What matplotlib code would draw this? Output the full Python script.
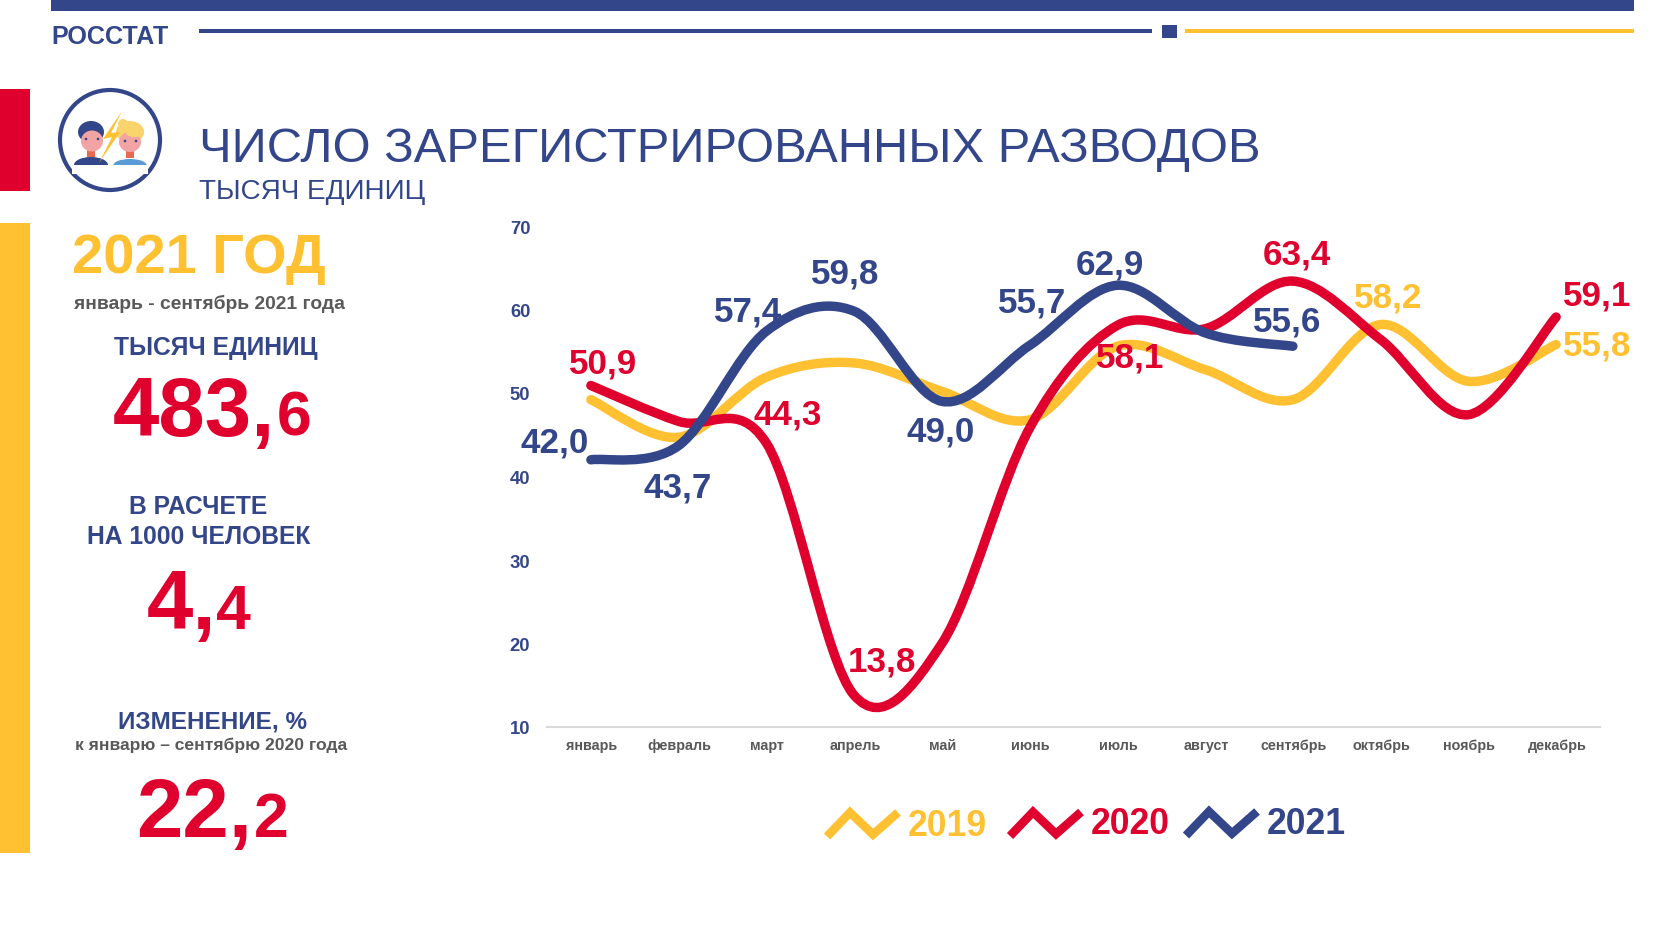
import numpy as np
import matplotlib
matplotlib.use('Agg')
import matplotlib.pyplot as plt
from matplotlib.path import Path
from matplotlib.patches import PathPatch, Rectangle, Circle, Ellipse, Polygon

plt.rcParams['font.family'] = ['Liberation Sans', 'DejaVu Sans']

NAVY = '#34468A'
RED = '#E0002D'
YELLOW = '#FFC132'
GRAY = '#595959'

months = ['январь', 'февраль', 'март', 'апрель', 'май', 'июнь', 'июль',
          'август', 'сентябрь', 'октябрь', 'ноябрь', 'декабрь']

series = {
    '2019': (YELLOW, [49.2, 44.7, 51.9, 53.6, 50.2, 46.8, 55.6, 52.8, 49.2, 58.2, 51.4, 55.8]),
    '2020': (RED, [50.9, 46.6, 44.0, 13.8, 20.0, 45.8, 58.1, 57.7, 63.4, 56.4, 47.4, 59.1]),
    '2021': (NAVY, [42.0, 43.7, 57.4, 59.8, 49.0, 55.7, 62.9, 57.2, 55.6]),
}

# label text, series colour, month index, value, offset in pixels from the point
labels = [
    ('50,9', RED, 0, 50.9, (12, 22)),
    ('42,0', NAVY, 0, 42.0, (-36, 18)),
    ('43,7', NAVY, 1, 43.7, (-1, -41)),
    ('57,4', NAVY, 2, 57.4, (-18, 20)),
    ('44,3', RED, 2, 44.0, (21, 29)),
    ('59,8', NAVY, 3, 59.8, (-9, 38)),
    ('13,8', RED, 3, 13.8, (28, 34)),
    ('49,0', NAVY, 4, 49.0, (-1, -30)),
    ('55,7', NAVY, 5, 55.7, (2, 43)),
    ('62,9', NAVY, 6, 62.9, (-7, 21)),
    ('58,1', RED, 6, 58.1, (13, -32)),
    ('63,4', RED, 8, 63.4, (4, 27)),
    ('55,6', NAVY, 8, 55.6, (-6, 25)),
    ('58,2', YELLOW, 9, 58.2, (8, 28)),
    ('59,1', RED, 11, 59.1, (41, 22)),
    ('55,8', YELLOW, 11, 55.8, (41, 0)),
]


def smooth_path(y):
    # same kind of smoothing as an office chart: bezier through every point
    x = np.arange(len(y), dtype=float)
    y = np.array(y, dtype=float)
    verts = [(x[0], y[0])]
    codes = [Path.MOVETO]
    for i in range(len(y) - 1):
        i0 = max(i - 1, 0)
        i3 = min(i + 2, len(y) - 1)
        verts.append((x[i] + (x[i + 1] - x[i0]) / 6, y[i] + (y[i + 1] - y[i0]) / 6))
        verts.append((x[i + 1] - (x[i3] - x[i]) / 6, y[i + 1] - (y[i3] - y[i]) / 6))
        verts.append((x[i + 1], y[i + 1]))
        codes += [Path.CURVE4, Path.CURVE4, Path.CURVE4]
    return Path(verts, codes)


W, H = 1680, 945
fig = plt.figure(figsize=(16.8, 9.45), dpi=100, facecolor='white')

# page furniture is laid out in pixels on a full size axes
page = fig.add_axes([0, 0, 1, 1], zorder=0)
page.set_xlim(0, W)
page.set_ylim(H, 0)
page.axis('off')

page.add_patch(Rectangle((51, 0), 1583, 12, color=NAVY, lw=0))
page.add_patch(Rectangle((199, 30), 953, 3.5, color=NAVY, lw=0))
page.add_patch(Rectangle((1162, 25.5), 15, 13, color=NAVY, lw=0))
page.add_patch(Rectangle((1185, 30), 449, 3.5, color=YELLOW, lw=0))
page.add_patch(Rectangle((0, 90), 30, 102, color=RED, lw=0))
page.add_patch(Rectangle((0, 224), 30, 630, color=YELLOW, lw=0))

page.text(51, 43.5, 'РОССТАТ', color=NAVY, fontsize=18.1, fontweight='bold', va='baseline')
page.text(199, 162, 'ЧИСЛО ЗАРЕГИСТРИРОВАННЫХ РАЗВОДОВ', color=NAVY, fontsize=35.2, va='baseline')
page.text(199, 199, 'ТЫСЯЧ ЕДИНИЦ', color=NAVY, fontsize=20.1, va='baseline')

# icon
page.add_patch(Circle((110, 141), 50, fc='white', ec=NAVY, lw=3))
page.add_patch(Ellipse((91, 166), 34, 16, color=NAVY, lw=0))
page.add_patch(Ellipse((130, 166), 33, 12, color='#5B9BD5', lw=0))
page.add_patch(Rectangle((72, 165.5), 76, 9, color='white', lw=0))
page.add_patch(Rectangle((87, 150), 8, 8, color='#E8694F', lw=0))
page.add_patch(Rectangle((126, 152), 8, 7, color='#E8694F', lw=0))
page.add_patch(Ellipse((91, 133), 26, 22, color=NAVY, lw=0))
page.add_patch(Ellipse((130, 133), 28, 22, color='#F9D36B', lw=0))
page.add_patch(Circle((123, 125), 5, color='#F9D36B', lw=0))
page.add_patch(Ellipse((92, 142), 22, 21, color='#F2A3A3', lw=0))
page.add_patch(Ellipse((130, 143), 22, 20, color='#F2A3A3', lw=0))
page.add_patch(Ellipse((135, 134), 18, 8, color='#F9D36B', lw=0))
page.add_patch(Polygon([(122, 112), (103, 140), (112, 138), (99, 164), (120, 133), (111, 134)],
                       color=YELLOW, lw=0))
for ex, ey in [(86, 140), (98, 140), (125, 142), (136, 142)]:
    page.add_patch(Circle((ex, ey), 1.3, color=NAVY, lw=0))

# left panel
page.text(72, 273, '2021 ГОД', color=YELLOW, fontsize=40.3, fontweight='bold', va='baseline')
page.text(209.5, 304, 'январь - сентябрь 2021 года', color=GRAY, fontsize=13.85, fontweight='bold',
          ha='center', va='center')
page.text(216, 348, 'ТЫСЯЧ ЕДИНИЦ', color=NAVY, fontsize=17.7, fontweight='bold', ha='center', va='center')
page.text(198.5, 506.5, 'В РАСЧЕТЕ', color=NAVY, fontsize=17.7, fontweight='bold', ha='center', va='center')
page.text(198.5, 536.5, 'НА 1000 ЧЕЛОВЕК', color=NAVY, fontsize=17.7, fontweight='bold', ha='center', va='center')
page.text(212, 722, 'ИЗМЕНЕНИЕ, %', color=NAVY, fontsize=17.5, fontweight='bold', ha='center', va='center')
page.text(211.5, 745.5, 'к январю – сентябрю 2020 года', color=GRAY, fontsize=12.6, fontweight='bold',
          ha='center', va='center')

for big, small, x0, x1, base in [('483,', '6', 113, 277, 436),
                                 ('4,', '4', 147, 216, 629),
                                 ('22,', '2', 136, 254, 837)]:
    page.text(x0, base, big, color=RED, fontsize=60, fontweight='bold', va='baseline')
    page.text(x1, base, small, color=RED, fontsize=45, fontweight='bold', va='baseline')

# legend, zigzag marks and year names
for x0, name, ty, tx in [(825, '2019', 826, 908), (1008, '2020', 825, 1091), (1184, '2021', 824, 1267)]:
    color = series[name][0]
    zx = np.array([0, 23, 46, 71]) + x0 + 2
    zy = np.array([837, 813, 835, 813]) + (ty - 825) * 0.5
    page.plot(zx, zy, color=color, lw=6.2, solid_joinstyle='miter', solid_capstyle='butt')
    page.text(tx, ty, name, color=color, fontsize=25.7, fontweight='bold', va='center')

# the chart itself
ax = fig.add_axes([547 / W, 1 - 728 / H, 1053 / W, 501 / H], zorder=1)
ax.patch.set_alpha(0)
ax.set_xlim(-0.5, 11.5)
ax.set_ylim(10, 70)

for name, (color, values) in series.items():
    ax.add_patch(PathPatch(smooth_path(values), fill=False, ec=color, lw=6.8,
                           capstyle='round', joinstyle='round', clip_on=False))

for text, color, i, v, off in labels:
    ax.annotate(text, (i, v), xytext=off, textcoords='offset pixels', color=color,
                fontsize=25.2, fontweight='bold', ha='center', va='center',
                annotation_clip=False)

ax.set_xticks(np.arange(12) + 0.012)
ax.set_xticklabels(months, fontsize=10.4, fontweight='bold', color=GRAY)
ax.set_yticks(range(10, 71, 10))
ax.set_yticklabels([str(v) for v in range(10, 71, 10)], fontsize=13.3, fontweight='bold', color=NAVY)
ax.tick_params(axis='both', length=0)
ax.tick_params(axis='x', pad=8)
ax.tick_params(axis='y', pad=12)
for side in ['top', 'left', 'right']:
    ax.spines[side].set_visible(False)
ax.spines['bottom'].set_color('#D9D9D9')
ax.spines['bottom'].set_linewidth(1.5)

fig.savefig('out.png', dpi=100)
